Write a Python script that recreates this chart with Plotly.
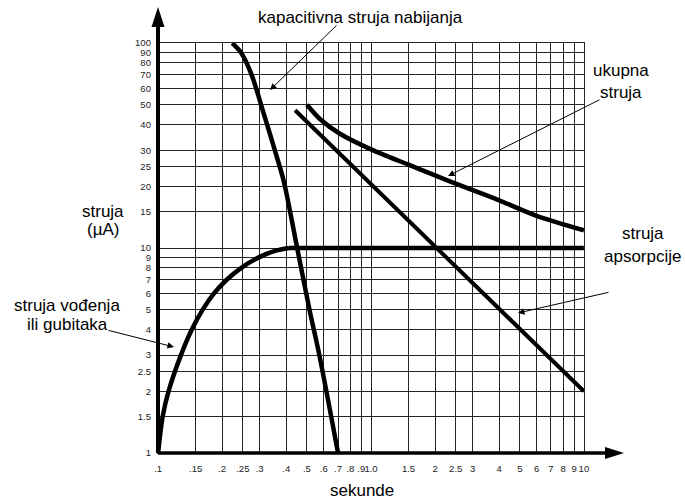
import plotly.graph_objects as go

# ---- data ----
x_ticks = [0.1, 0.15, 0.2, 0.25, 0.3, 0.4, 0.5, 0.6, 0.7, 0.8, 0.9, 1.0,
           1.5, 2, 2.5, 3, 4, 5, 6, 7, 8, 9, 10]
x_labels = [".1", ".15", ".2", ".25", ".3", ".4", ".5", ".6", ".7", ".8", ".9", "1.0",
            "1.5", "2", "2.5", "3", "4", "5", "6", "7", "8", "9", "10"]
y_ticks = [1, 1.5, 2, 2.5, 3, 4, 5, 6, 7, 8, 9, 10, 15, 20, 25, 30, 40, 50, 60, 70, 80, 90, 100]
y_labels = ["1", "1.5", "2", "2.5", "3", "4", "5", "6", "7", "8", "9", "10", "15", "20",
            "25", "30", "40", "50", "60", "70", "80", "90", "100"]

# kapacitivna struja nabijanja
cap_x = [0.223, 0.245, 0.275, 0.314, 0.351, 0.39, 0.45, 0.514, 0.572, 0.7]
cap_y = [100, 90, 70, 45, 30.7, 21, 10, 5, 3, 1]

# struja vođenja ili gubitaka (rising part, then constant)
cond_x = [0.1, 0.105, 0.112, 0.128, 0.144, 0.162, 0.183, 0.21, 0.246, 0.297, 0.357, 0.412]
cond_y = [1, 1.5, 2, 3, 4, 5, 6, 7, 8, 9, 9.7, 10]
cond_flat_x = [0.412, 10]
cond_flat_y = [10, 10]

# struja apsorpcije
abs_x = [0.44, 10]
abs_y = [47, 2]

# ukupna struja
tot_x = [0.5, 0.577, 0.718, 1.0, 1.5, 2.0, 2.5, 3.37, 4.1, 5.95, 10]
tot_y = [50, 42.5, 36, 30.3, 25.5, 22.6, 20.6, 18.3, 16.9, 14.4, 12.2]

# ---- layout geometry (pixels) ----
W, H = 685, 501
L, R, T, B = 158, 101, 43, 48
PW, PH = W - L - R, H - T - B


def px(x):
    return (x - L) / PW


def py(y):
    return (H - B - y) / PH


FONT = "Liberation Sans, Arial, sans-serif"
LINE = dict(color="black", width=4.5)

fig = go.Figure()
fig.add_trace(go.Scatter(x=cap_x, y=cap_y, mode="lines",
                         line=dict(**LINE, shape="spline", smoothing=0.8)))
fig.add_trace(go.Scatter(x=cond_x, y=cond_y, mode="lines",
                         line=dict(**LINE, shape="spline", smoothing=0.8)))
fig.add_trace(go.Scatter(x=cond_flat_x, y=cond_flat_y, mode="lines", line=LINE))
fig.add_trace(go.Scatter(x=abs_x, y=abs_y, mode="lines", line=dict(color="black", width=4)))
fig.add_trace(go.Scatter(x=tot_x, y=tot_y, mode="lines",
                         line=dict(**LINE, shape="spline", smoothing=0.8)))

GRID = "#262626"
fig.update_xaxes(type="log", range=[-1.0005, 1.0005], tickmode="array", tickvals=x_ticks,
                 ticktext=x_labels, tickangle=0, showgrid=True, gridcolor=GRID, gridwidth=1.3,
                 showline=True, mirror=True, linecolor=GRID, linewidth=1.3,
                 ticks="", ticklabelstandoff=6, zeroline=False,
                 tickfont=dict(family=FONT, size=9.5, color="#222"))
fig.update_yaxes(type="log", range=[-0.0005, 2.0005], tickmode="array", tickvals=y_ticks,
                 ticktext=y_labels, showgrid=True, gridcolor=GRID, gridwidth=1.3,
                 showline=True, mirror=True, linecolor=GRID, linewidth=1.3,
                 ticks="", ticklabelstandoff=4, zeroline=False,
                 tickfont=dict(family=FONT, size=9.5, color="#222"))

shapes = [
    # thick axes
    dict(type="line", xref="paper", yref="paper", x0=0, x1=0, y0=0, y1=py(24),
         line=dict(color="black", width=4)),
    dict(type="line", xref="paper", yref="paper", x0=0, x1=px(607), y0=0, y1=0,
         line=dict(color="black", width=3.5)),
    # arrow heads
    dict(type="path", xref="paper", yref="paper",
         path=f"M {px(158)} {py(7)} L {px(151.5)} {py(27)} L {px(164.5)} {py(27)} Z",
         fillcolor="black", line=dict(color="black", width=0)),
    dict(type="path", xref="paper", yref="paper",
         path=f"M {px(624)} {py(453)} L {px(605)} {py(447)} L {px(605)} {py(459)} Z",
         fillcolor="black", line=dict(color="black", width=0)),
]

annotations = []


def text(t, x, y):
    annotations.append(dict(text=t, xref="paper", yref="paper", x=px(x), y=py(y),
                            xanchor="center", yanchor="middle", showarrow=False,
                            font=dict(family=FONT, size=17, color="black")))


def arrow(x0, y0, x1, y1):
    annotations.append(dict(text="", xref="paper", yref="paper", x=px(x1), y=py(y1),
                            ax=x0 - x1, ay=y0 - y1, axref="pixel", ayref="pixel",
                            showarrow=True, arrowhead=2, arrowsize=1.3, arrowwidth=1,
                            arrowcolor="black", standoff=0, startstandoff=0))


text("kapacitivna struja nabijanja", 360, 18)
arrow(338, 24, 270, 90)
text("ukupna", 621, 71)
text("struja", 621, 92)
arrow(601, 99, 448, 176)
text("struja", 643, 233)
text("apsorpcije", 643, 256)
arrow(610, 292, 518, 313)
text("struja", 103, 211)
text("(µA)", 103, 230)
text("struja vođenja", 67, 305)
text("ili gubitaka", 67, 324)
arrow(107, 330, 174, 347)
text("sekunde", 362, 490)

fig.update_layout(width=W, height=H, margin=dict(l=L, r=R, t=T, b=B),
                  plot_bgcolor="white", paper_bgcolor="white", showlegend=False,
                  shapes=shapes, annotations=annotations)

fig.write_html("out.html", config={"displayModeBar": False},
               post_script="document.body.style.margin='0px';")
